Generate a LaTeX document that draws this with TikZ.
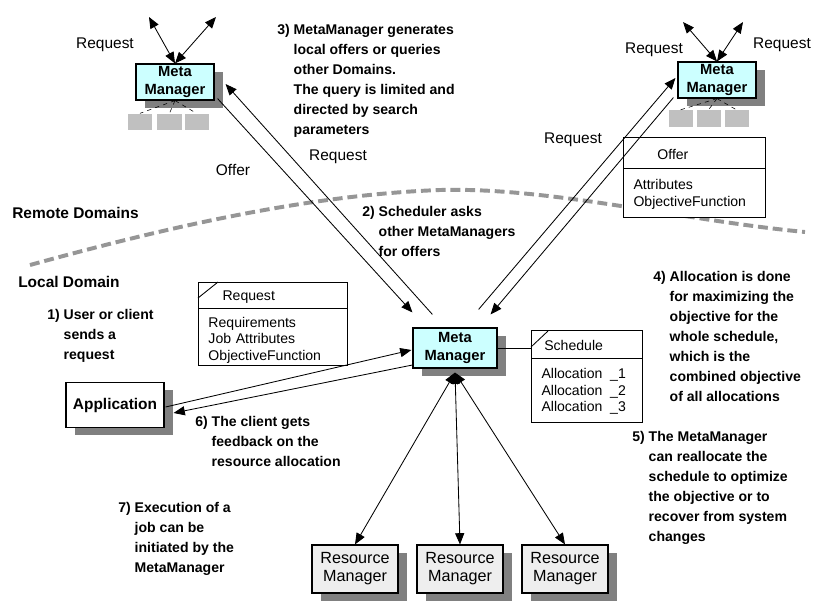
\documentclass[tikz,border=0pt]{standalone}
\usepackage{fontspec}
\setmainfont{Liberation Sans}
\usepackage{tikz}
\usetikzlibrary{arrows.meta, positioning, shadows, shapes.multipart}
\usepackage{xcolor}

\definecolor{metacyan}{RGB}{204,255,255}
\definecolor{shadowgray}{RGB}{128,128,128}
\definecolor{rmgray}{RGB}{238,238,238}
\definecolor{smallgray}{RGB}{192,192,192}
\definecolor{domaingray}{RGB}{150,150,150}

\newcommand{\partstrut}[2]{\rule[-#2]{0pt}{\dimexpr#1+#2\relax}}
\newcommand{\stepgap}{\hphantom{0) }}

\begin{document}
\begin{tikzpicture}[x=0.025cm, y=-0.025cm,
    >={Triangle[length=8pt,width=6.5pt]},
    every node/.style={inner sep=0pt},
    meta/.style={draw, line width=0.8pt, fill=metacyan, align=center,
        font=\fontsize{10.5}{12.5}\selectfont\bfseries,
        minimum width=1.95cm, minimum height=0.9cm,
        drop shadow={shadow xshift=6.5pt, shadow yshift=-5.5pt, fill=shadowgray, opacity=1}},
    resmgr/.style={meta, fill=rmgray, font=\fontsize{11.5}{12.8}\selectfont,
        minimum width=2.15cm, minimum height=1.2cm},
    appbox/.style={meta, fill=white, font=\fontsize{11}{13}\selectfont\bfseries,
        minimum width=2.45cm, minimum height=1.125cm},
    hostbox/.style={fill=smallgray, minimum width=0.6cm, minimum height=0.42cm},
    classbox/.style={draw, line width=0.7pt, fill=white, rectangle split,
        rectangle split parts=2, align=left, inner xsep=0.25cm, inner ysep=0pt,
        anchor=north west, font=\fontsize{10}{12}\selectfont},
    steptext/.style={anchor=north west, align=left, font=\fontsize{10}{14.2}\selectfont\bfseries},
    domainlbl/.style={anchor=west, font=\fontsize{11}{13}\selectfont\bfseries},
    msg/.style={font=\fontsize{11}{13}\selectfont},
    link/.style={line width=0.6pt},
    hostlink/.style={line width=0.4pt, dashed},
    domainline/.style={draw=domaingray, line width=2.8pt, dash pattern=on 7pt off 3.5pt}
]
    \useasboundingbox (0,0) rectangle (820,600);
    \fill[white] (0,0) rectangle (820,600);

    % border between the domains
    \draw[domainline] (30,265) .. controls (150,232) and (300,195) .. (440,190)
        .. controls (550,187) and (680,220) .. (805,232);

    % remote domains
    \node[meta] (mmA) at (175,82) {Meta\\Manager};
    \node[hostbox] (hostA1) at (140,122) {};
    \node[hostbox] (hostA2) at (169.5,122) {};
    \node[hostbox] (hostA3) at (196.5,122) {};
    \node[meta] (mmB) at (717,80) {Meta\\Manager};
    \node[hostbox] (hostB1) at (680.5,118.5) {};
    \node[hostbox] (hostB2) at (708.5,118.5) {};
    \node[hostbox] (hostB3) at (736.5,118.5) {};
    \foreach \h in {hostA1,hostA2,hostA3} \draw[hostlink] (mmA.south) -- (\h.north);
    \foreach \h in {hostB1,hostB2,hostB3} \draw[hostlink] (mmB.south) -- (\h.north);

    \coordinate (tipA1) at (149,17);
    \coordinate (tipA2) at (216,17);
    \coordinate (tipB1) at (683,22);
    \coordinate (tipB2) at (743,22);
    \draw[link,<->] (mmA.north) -- (tipA1);
    \draw[link,<->] (mmA.north) -- (tipA2);
    \draw[link,<->] (mmB.north) -- (tipB1);
    \draw[link,<->] (mmB.north) -- (tipB2);

    \node[classbox, text width=3.05cm] (offerbox) at (623,137)
        {\partstrut{15.6pt}{5.7pt}\hspace{17pt}Offer
         \nodepart{two}\partstrut{14.9pt}{0pt}Attributes\\ObjectiveFunction\partstrut{0pt}{7.1pt}};

    % local domain
    \node[meta, minimum width=2.1cm, minimum height=1cm] (mmC) at (455,348) {Meta\\Manager};
    \node[appbox] (app) at (115,405) {Application};
    \node[resmgr] (rm1) at (355,569) {Resource\\Manager};
    \node[resmgr] (rm2) at (460,569) {Resource\\Manager};
    \node[resmgr] (rm3) at (565,569) {Resource\\Manager};

    \node[classbox, text width=3.225cm] (reqbox) at (198,282)
        {\partstrut{12.8pt}{5pt}\hspace{10pt}Request
         \nodepart{two}\partstrut{12.8pt}{0pt}Requirements\\Job Attributes\\ObjectiveFunction\partstrut{0pt}{2.8pt}};
    \draw[link] ([shift={(0,16)}]reqbox.north west) -- ([shift={(20,0)}]reqbox.north west);

    \node[classbox, text width=2.275cm, font=\fontsize{10}{11.7}\selectfont] (schedbox) at (531,330)
        {\partstrut{14.2pt}{5pt}\hspace{2pt}Schedule
         \nodepart{two}\partstrut{14.2pt}{0pt}Allocation\hspace{5.5pt}\_1\\Allocation\hspace{5.5pt}\_2\\Allocation\hspace{5.5pt}\_3\partstrut{0pt}{7.1pt}};
    \draw[link] ([shift={(0,17)}]schedbox.north west) -- ([shift={(17,1)}]schedbox.north west);

    % connectors
    \draw[link,->] ([shift={(20,-13)}]mmC.north west) -- ([shift={(11,2)}]mmA.east);
    \draw[link,->] ([shift={(3,-2)}]mmA.south east) -- ([shift={(0,-15)}]mmC.north west);
    \draw[link,->] ([shift={(-19,-18)}]mmC.north east) -- ([shift={(-2,-2)}]mmB.west);
    \draw[link,->] ([shift={(-4,-1)}]mmB.south west) -- ([shift={(-7,-13)}]mmC.north east);
    \draw[link,->] ([shift={(1,2)}]app.east) -- ([shift={(-1,2)}]mmC.west);
    \draw[link,->] ([shift={(0,17)}]mmC.west) -- ([shift={(9,8)}]app.east);
    \draw[link] (mmC.east) -- (mmC.east -| schedbox.west);
    \foreach \r in {rm1,rm2,rm3} \draw[link,<->] ([shift={(0,4)}]mmC.south) -- (\r.north);

    % labels
    \node[msg] (reqA) at (105,45) {Request};
    \node[msg] (reqB) at (654,50) {Request};
    \node[msg] (reqC) at (782,45) {Request};
    \node[msg] (reqD) at (573,140) {Request};
    \node[msg] (reqE) at (338,157) {Request};
    \node[msg] (offerA) at (233,170) {Offer};
    \node[domainlbl] (remote) at (12,213) {Remote Domains};
    \node[domainlbl] (local) at (18,282) {Local Domain};

    % steps
    \node[steptext] (step1) at (47,309) {1) User or client\\\stepgap sends a\\\stepgap request};
    \node[steptext] (step2) at (362,206) {2) Scheduler asks\\\stepgap other MetaManagers\\\stepgap for offers};
    \node[steptext] (step3) at (277,24) {3) MetaManager generates\\\stepgap local offers or queries\\\stepgap other Domains.\\\stepgap The query is limited and\\\stepgap directed by search\\\stepgap parameters};
    \node[steptext] (step4) at (653,271) {4) Allocation is done\\\stepgap for maximizing the\\\stepgap objective for the\\\stepgap whole schedule,\\\stepgap which is the\\\stepgap combined objective\\\stepgap of all allocations};
    \node[steptext] (step5) at (632,431) {5) The MetaManager\\\stepgap can reallocate the\\\stepgap schedule to optimize\\\stepgap the objective or to\\\stepgap recover from system\\\stepgap changes};
    \node[steptext] (step6) at (195,416) {6) The client gets\\\stepgap feedback on the\\\stepgap resource allocation};
    \node[steptext] (step7) at (118,502) {7) Execution of a\\\stepgap job can be\\\stepgap initiated by the\\\stepgap MetaManager};
\end{tikzpicture}
\end{document}
